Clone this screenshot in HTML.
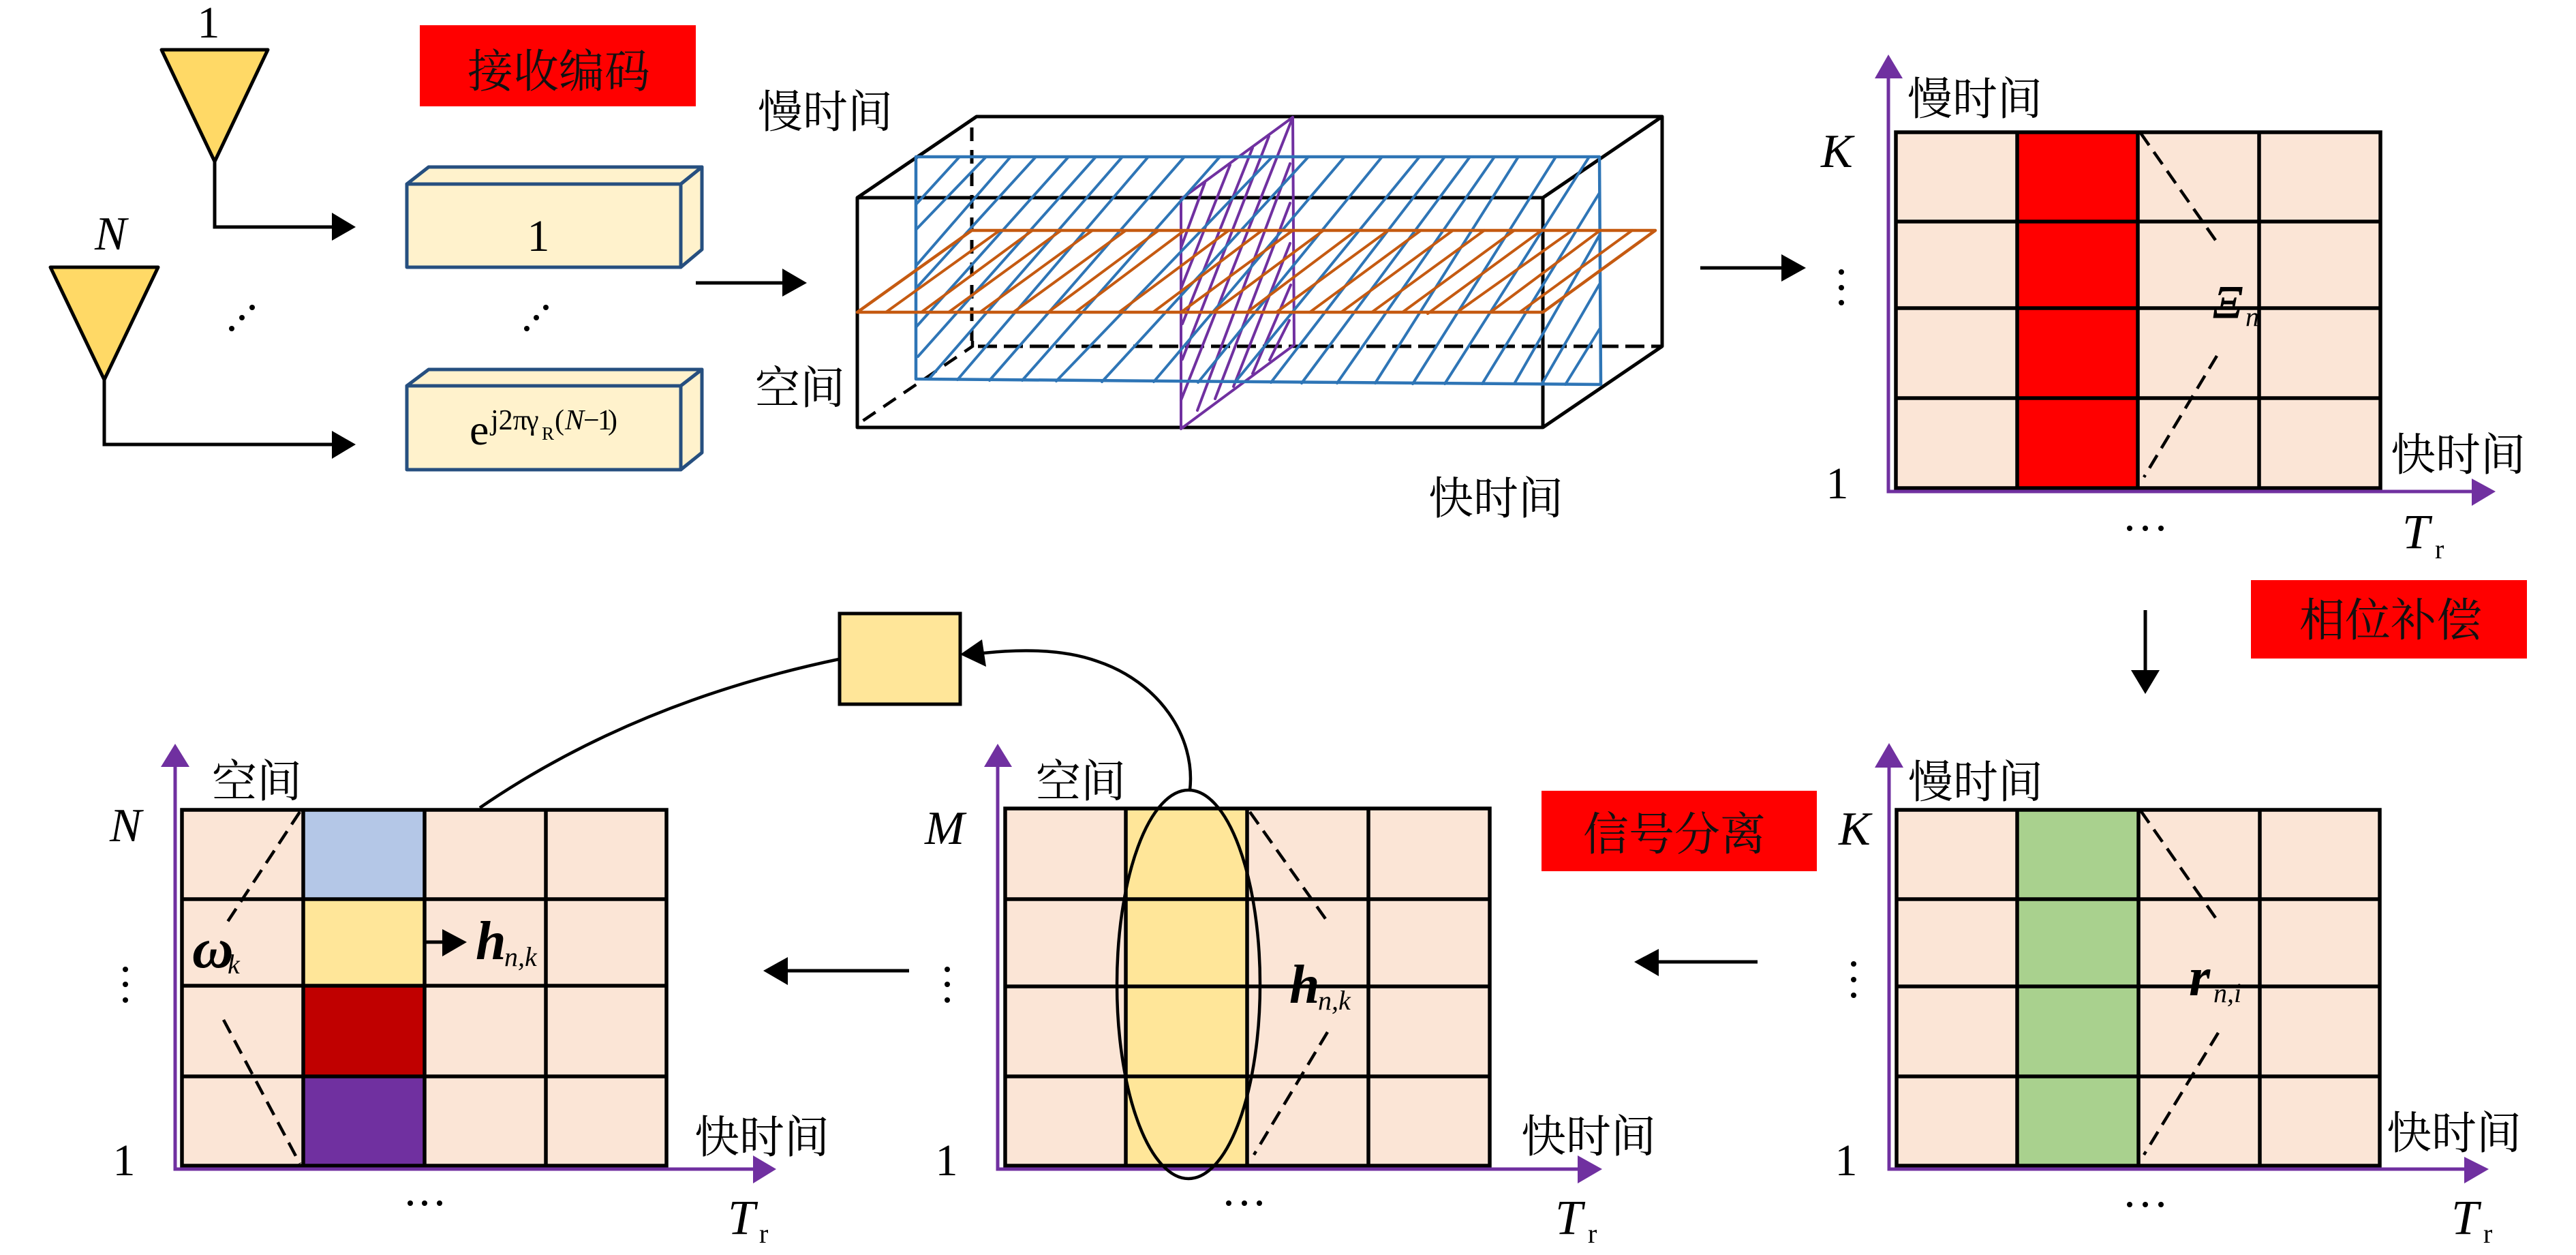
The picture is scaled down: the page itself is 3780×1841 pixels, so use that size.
<!DOCTYPE html>
<html><head><meta charset="utf-8"><style>
html,body{margin:0;padding:0;background:#fff;width:3780px;height:1841px;overflow:hidden}
svg{display:block}
.c{font-family:"Liberation Serif","Noto Serif CJK SC",serif;font-size:66px;fill:#000}
.b{font-family:"Liberation Serif","Noto Serif CJK SC",serif;font-size:67px;fill:#111}
.m{font-family:"Liberation Serif",serif;fill:#000}
.i{font-style:italic}.bi{font-style:italic;font-weight:bold}
.grid{fill:none;stroke:#000;stroke-width:5.5}
.dash{fill:none;stroke:#000;stroke-width:4.5;stroke-dasharray:22 12}
.ax{fill:none;stroke:#7030A0;stroke-width:5}
</style></head><body>
<svg width="3780" height="1841" viewBox="0 0 3780 1841" xmlns="http://www.w3.org/2000/svg">
<rect width="3780" height="1841" fill="#fff"/>

<!-- antennas -->
<polygon points="237,73 393,73 315,237" fill="#FFD966" stroke="#000" stroke-width="5" stroke-linejoin="round"/>
<polygon points="74,392 232,392 153,557" fill="#FFD966" stroke="#000" stroke-width="5" stroke-linejoin="round"/>
<path d="M315 237V333H490M153 557V652H490" fill="none" stroke="#000" stroke-width="5"/>
<polygon points="487,312 522,333 487,353" fill="#000"/>
<polygon points="487,632 522,652 487,673" fill="#000"/>
<text x="306" y="55" class="m" font-size="66" text-anchor="middle">1</text>
<text x="139" y="366" class="m i" font-size="70">N</text>

<!-- red label 1 -->
<rect x="616" y="37" width="405" height="119" fill="#FF0000"/>
<text x="686" y="128" class="b">接收编码</text>

<!-- code boxes -->
<g fill="#FFF2CC" stroke="#264F7F" stroke-width="5" stroke-linejoin="round">
<polygon points="597,270 629,245 1030,245 999,270"/>
<polygon points="999,270 1030,245 1030,366 999,392"/>
<rect x="597" y="270" width="402" height="122"/>
<polygon points="597,566 629,542 1030,542 999,566"/>
<polygon points="999,566 1030,542 1030,664 999,689"/>
<rect x="597" y="566" width="402" height="123"/>
</g>
<text x="790" y="368" class="m" font-size="66" text-anchor="middle">1</text>
<text class="m"><tspan x="689" y="652" font-size="64">e</tspan><tspan x="720" y="630" font-size="42">j2π</tspan><tspan x="772" y="630" font-size="42">γ</tspan><tspan x="795" y="645" font-size="27">R</tspan><tspan x="814" y="630" font-size="42">(</tspan><tspan x="829" y="630" font-size="42" font-style="italic">N</tspan><tspan x="856" y="630" font-size="42">−</tspan><tspan x="877" y="630" font-size="42">1</tspan><tspan x="892" y="630" font-size="42">)</tspan></text>
<g fill="#000">
<circle cx="340" cy="482" r="4"/><circle cx="355" cy="466" r="4"/><circle cx="370" cy="451" r="4"/>
<circle cx="773" cy="482" r="4"/><circle cx="787" cy="466" r="4"/><circle cx="801" cy="451" r="4"/>
</g>

<!-- arrow to cube -->
<path d="M1021 415H1150" stroke="#000" stroke-width="5" fill="none"/>
<polygon points="1148,394 1184,415 1148,435" fill="#000"/>

<!-- cube -->
<g fill="none" stroke="#000" stroke-width="5" stroke-linejoin="round">
<rect x="1258" y="290" width="1006" height="337"/>
<path d="M1258 290L1433 171H2439V508L2264 627M2264 290L2439 171"/>
</g>
<path d="M1426 187V500" fill="none" stroke="#000" stroke-width="5" stroke-dasharray="20 13"/>
<path d="M1435 508H2439" fill="none" stroke="#000" stroke-width="5" stroke-dasharray="28 10"/>
<path d="M1427 500V508L1265 618" fill="none" stroke="#000" stroke-width="4.5" stroke-dasharray="22 14"/>

<!-- purple plane -->
<g fill="none" stroke="#7030A0" stroke-width="4" stroke-linecap="round" stroke-linejoin="round">
<polygon points="1733,629 1733,292 1897,172 1899,506"/>
<path d="M1768 268L1733 363M1805 242L1733 423M1838 217L1735 475M1862 200L1735 527M1897 172L1733 587M1893 240L1757 602M1893 298L1783 585M1893 357L1810 567M1894 418L1838 548M1892 470L1863 528"/>
</g>

<!-- blue plane -->
<g fill="none" stroke="#2E75B6" stroke-linecap="round">
<polygon points="1344,230 2347,230 2349,564 1344,556" stroke-width="4.5" stroke-linejoin="round"/>
<path stroke-width="4" d="M1408 230L1344 300M1447 230L1344 337M1483 230L1344 390M1520 230L1344 423M1568 230L1344 480M1608 230L1347 523M1647 230L1363 556M1685 230L1405 557M1738 230L1452 558M1790 230L1500 558M1867 230L1550 559M1920 230L1617 560M1973 230L1693 560M2028 230L1758 561M2083 230L1812 561M2120 230L1865 561M2157 230L1910 562M2193 230L1962 562M2228 230L2018 562M2283 230L2073 563M2332 230L2120 563M2347 283L2175 563M2347 345L2222 563M2347 417L2262 564M2347 483L2297 564"/>
</g>

<!-- orange plane -->
<g fill="none" stroke="#C55A11" stroke-linecap="round">
<polygon points="1426,338 2429,338 2264,458 1258,458" stroke-width="4.5" stroke-linejoin="round"/>
<path stroke-width="4" d="M1467 338L1300 458M1515 338L1352 458M1557 338L1392 458M1603 338L1438 458M1652 338L1487 458M1700 338L1538 458M1738 338L1578 458M1803 338L1642 458M1852 338L1692 458M1897 338L1733 458M1942 338L1780 458M1990 338L1830 458M2037 338L1873 458M2085 338L1922 458M2132 338L1968 458M2178 338L2013 458M2222 338L2058 458M2262 338L2095 460M2307 338L2138 458M2348 338L2187 458M2395 338L2230 458"/>
</g>

<text x="1112" y="187" class="c">慢时间</text>
<text x="1108" y="592" class="c">空间</text>
<text x="2096" y="754" class="c">快时间</text>

<!-- arrow to graph 1 -->
<path d="M2495 393H2616" stroke="#000" stroke-width="5" fill="none"/>
<polygon points="2614,373 2650,393 2614,413" fill="#000"/>

<!-- graph 1 -->
<rect x="2782" y="194" width="711" height="522" fill="#FBE5D6"/>
<rect x="2960" y="194" width="177" height="522" fill="#FF0000"/>
<path class="grid" d="M2782 194H3493V716H2782ZM2960 194V716M3137 194V716M3315 194V716M2782 325H3493M2782 452H3493M2782 584H3493"/>
<path class="ax" d="M2771 110V721H3630"/>
<polygon points="2771,80 2751,115 2792,115" fill="#7030A0"/>
<polygon points="3627,702 3662,721 3627,742" fill="#7030A0"/>
<path class="dash" d="M3141 195L3255 358M3253 522L3146 700"/>
<text x="2799" y="168" class="c">慢时间</text>
<text x="3508" y="690" class="c">快时间</text>
<text x="2672" y="245" class="m i" font-size="70">K</text>
<text x="2696" y="731" class="m" font-size="66" text-anchor="middle">1</text>
<g fill="#000">
<circle cx="2702" cy="399" r="4"/><circle cx="2702" cy="422" r="4"/><circle cx="2702" cy="444" r="4"/>
<circle cx="3125" cy="775" r="4"/><circle cx="3148" cy="775" r="4"/><circle cx="3171" cy="775" r="4"/>
</g>
<text x="3525" y="804" class="m i" font-size="72">T</text>
<text x="3573" y="819" class="m" font-size="40">r</text>
<text x="3247" y="466" class="m i" font-size="68" stroke="#000" stroke-width="1">Ξ</text>
<text x="3295" y="478" class="m i" font-size="40">n</text>

<!-- red label 2 and down arrow -->
<rect x="3303" y="851" width="405" height="115" fill="#FF0000"/>
<text x="3374" y="933" class="b">相位补偿</text>
<path d="M3148 895V985" stroke="#000" stroke-width="5" fill="none"/>
<polygon points="3127,983 3169,983 3148,1018" fill="#000"/>

<!-- graph 2 -->
<rect x="2783" y="1188" width="709" height="522" fill="#FBE5D6"/>
<rect x="2960" y="1188" width="178" height="522" fill="#A9D18E"/>
<path class="grid" d="M2783 1188H3492V1710H2783ZM2960 1188V1710M3138 1188V1710M3316 1188V1710M2783 1319H3492M2783 1447H3492M2783 1579H3492"/>
<path class="ax" d="M2772 1120V1715H3620"/>
<polygon points="2772,1090 2751,1126 2793,1126" fill="#7030A0"/>
<polygon points="3616,1697 3652,1715 3616,1736" fill="#7030A0"/>
<path class="dash" d="M3141 1189L3255 1352M3255 1515L3146 1694"/>
<text x="2800" y="1170" class="c">慢时间</text>
<text x="3502" y="1685" class="c">快时间</text>
<text x="2698" y="1239" class="m i" font-size="70">K</text>
<text x="2709" y="1724" class="m" font-size="66" text-anchor="middle">1</text>
<g fill="#000">
<circle cx="2720" cy="1414" r="4"/><circle cx="2720" cy="1437" r="4"/><circle cx="2720" cy="1460" r="4"/>
<circle cx="3125" cy="1767" r="4"/><circle cx="3148" cy="1767" r="4"/><circle cx="3171" cy="1767" r="4"/>
</g>
<text x="3597" y="1810" class="m i" font-size="72">T</text>
<text x="3644" y="1823" class="m" font-size="40">r</text>
<text x="3212" y="1460" class="m bi" font-size="80">r</text>
<text x="3248" y="1470" class="m i" font-size="40">n,i</text>

<!-- red label 3 and left arrow -->
<rect x="2262" y="1160" width="404" height="118" fill="#FF0000"/>
<text x="2323" y="1247" class="b">信号分离</text>
<path d="M2579 1411H2432" stroke="#000" stroke-width="5" fill="none"/>
<polygon points="2434,1392 2398,1411 2434,1432" fill="#000"/>

<!-- graph 3 -->
<rect x="1475" y="1186" width="711" height="524" fill="#FBE5D6"/>
<rect x="1652" y="1186" width="178" height="524" fill="#FFE699"/>
<path class="grid" d="M1475 1186H2186V1710H1475ZM1652 1186V1710M1830 1186V1710M2008 1186V1710M1475 1319H2186M1475 1447H2186M1475 1579H2186"/>
<path class="ax" d="M1464 1120V1715H2320"/>
<polygon points="1464,1091 1444,1125 1485,1125" fill="#7030A0"/>
<polygon points="2315,1695 2351,1715 2315,1736" fill="#7030A0"/>
<ellipse cx="1744" cy="1444" rx="105" ry="285" fill="none" stroke="#000" stroke-width="4.5"/>
<path class="dash" d="M1834 1191L1948 1352M1948 1514L1840 1694"/>
<text x="1520" y="1169" class="c">空间</text>
<text x="2232" y="1690" class="c">快时间</text>
<text x="1357" y="1238" class="m i" font-size="70">M</text>
<text x="1389" y="1724" class="m" font-size="66" text-anchor="middle">1</text>
<g fill="#000">
<circle cx="1390" cy="1422" r="4"/><circle cx="1390" cy="1444" r="4"/><circle cx="1390" cy="1467" r="4"/>
<circle cx="1803" cy="1765" r="4"/><circle cx="1826" cy="1765" r="4"/><circle cx="1848" cy="1765" r="4"/>
</g>
<text x="2282" y="1810" class="m i" font-size="72">T</text>
<text x="2330" y="1823" class="m" font-size="40">r</text>
<text x="1892" y="1471" class="m bi" font-size="80">h</text>
<text x="1934" y="1481" class="m i" font-size="40">n,k</text>

<!-- small box and curves -->
<rect x="1232" y="900" width="177" height="133" fill="#FFE699" stroke="#000" stroke-width="5"/>
<path d="M1746 1159C1755 1080 1700 1000 1610 970C1560 952 1500 952 1443 958" fill="none" stroke="#000" stroke-width="4.5"/>
<polygon points="1409,960 1441,938 1447,978" fill="#000"/>
<path d="M704 1185Q930 1030 1231 967" fill="none" stroke="#000" stroke-width="4.5"/>

<!-- left arrow -->
<path d="M1334 1424H1154" stroke="#000" stroke-width="5" fill="none"/>
<polygon points="1156,1404 1120,1424 1156,1445" fill="#000"/>

<!-- graph 4 -->
<rect x="267" y="1188" width="711" height="522" fill="#FBE5D6"/>
<rect x="445" y="1188" width="178" height="131" fill="#B4C7E7"/>
<rect x="445" y="1319" width="178" height="127" fill="#FFE699"/>
<rect x="445" y="1446" width="178" height="133" fill="#C00000"/>
<rect x="445" y="1579" width="178" height="131" fill="#7030A0"/>
<path class="grid" d="M267 1188H978V1710H267ZM445 1188V1710M623 1188V1710M801 1188V1710M267 1319H978M267 1446H978M267 1579H978"/>
<path class="ax" d="M257 1120V1715H1110"/>
<polygon points="257,1091 236,1125 278,1125" fill="#7030A0"/>
<polygon points="1105,1695 1139,1715 1105,1736" fill="#7030A0"/>
<path class="dash" d="M440 1191L332 1355M328 1496L440 1707"/>
<text x="311" y="1169" class="c">空间</text>
<text x="1019" y="1691" class="c">快时间</text>
<text x="161" y="1234" class="m i" font-size="70">N</text>
<text x="182" y="1724" class="m" font-size="66" text-anchor="middle">1</text>
<g fill="#000">
<circle cx="184" cy="1422" r="4"/><circle cx="184" cy="1444" r="4"/><circle cx="184" cy="1467" r="4"/>
<circle cx="602" cy="1765" r="4"/><circle cx="623" cy="1765" r="4"/><circle cx="645" cy="1765" r="4"/>
</g>
<text x="1068" y="1810" class="m i" font-size="72">T</text>
<text x="1114" y="1823" class="m" font-size="40">r</text>
<path d="M623 1382H652" stroke="#000" stroke-width="5" fill="none"/>
<polygon points="649,1363 685,1382 649,1403" fill="#000"/>
<text x="698" y="1407" class="m bi" font-size="80">h</text>
<text x="740" y="1417" class="m i" font-size="40">n,k</text>
<text x="282" y="1419" class="m bi" font-size="84">ω</text>
<text x="334" y="1428" class="m i" font-size="40">k</text>
</svg>
</body></html>
